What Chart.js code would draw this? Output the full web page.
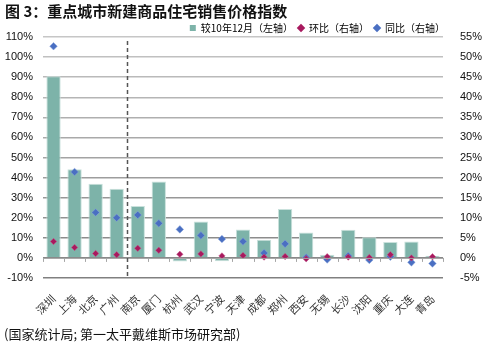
<!DOCTYPE html>
<html>
<head>
<meta charset="utf-8">
<script src="https://cdn.jsdelivr.net/npm/chart.js@4/dist/chart.umd.min.js"></script>
<style>
  html, body { margin: 0; padding: 0; background: #fff; }
  #wrap { position: relative; width: 493px; height: 350px; overflow: hidden; }
  #chart { position: absolute; left: 0; top: 0; }
  .titulo { position: absolute; left: 5px; top: 0px; font: bold 15px "Noto Sans CJK SC", sans-serif; color: #111; white-space: nowrap; }
  .fonte { position: absolute; left: 4px; top: 324px; font: 13px "Noto Sans CJK SC", sans-serif; color: #111; white-space: nowrap; }
</style>
</head>
<body>
<div id="wrap">
  <canvas id="chart" width="493" height="350"></canvas>
  <div class="titulo">图 3：重点城市新建商品住宅销售价格指数</div>
  <div class="fonte">(国家统计局; 第一太平戴维斯市场研究部)</div>
</div>
<script>
// Dados
const cidades = ['深圳', '上海', '北京', '广州', '南京', '厦门', '杭州', '武汉', '宁波', '天津',
                 '成都', '郑州', '西安', '无锡', '长沙', '沈阳', '重庆', '大连', '青岛'];
const vsDez10 = [90.4, 44.2, 36.9, 34.4, 25.9, 38.0, -1.8, 18.1, -1.7, 14.1,
                 9.1, 24.4, 12.6, 1.6, 14.0, 10.3, 7.9, 8.2, 1.1];
const huanbi = [4.1, 2.6, 1.1, 0.8, 2.4, 1.9, 0.9, 1.0, 0.5, 0.6,
                0.2, 0.35, -0.2, 0.3, 0.2, 0.1, 0.8, 0.0, 0.3];
const tongbi = [52.7, 21.4, 11.3, 10.0, 10.7, 8.6, 7.1, 5.6, 4.7, 4.1,
                1.2, 3.5, 0.1, -0.4, 0.5, -0.5, 0.3, -1.1, -1.4];
const nomesSeries = ['较10年12月（左轴）', '环比（右轴）', '同比（右轴）'];

// Legenda mais baixa e encostada no fim da área do gráfico
const legendaCompacta = {
    id: 'legendaCompacta',
    afterInit(chart) {
        const lg = chart.legend;
        const fitOrig = lg.fit.bind(lg);
        lg.fit = function () { fitOrig(); this.height = 19; };
    },
    afterLayout(chart) {
        const lg = chart.legend;
        lg.right = chart.chartArea.right + 7;
    }
};

// Linha tracejada entre 广州 e 南京 + eixo no zero com marcas
const extras = {
    id: 'extras',
    afterDatasetsDraw(chart) {
        const { ctx, chartArea, scales } = chart;
        const x = scales.x;
        const y0 = scales.y.getPixelForValue(0);
        ctx.save();
        ctx.strokeStyle = '#a6a6a6';
        ctx.lineWidth = 1;
        ctx.beginPath();
        ctx.moveTo(chartArea.left, y0 + 0.5);
        ctx.lineTo(chartArea.right, y0 + 0.5);
        for (let i = 0; i <= cidades.length; i++) {
            const px = Math.round(x.getPixelForValue(i - 0.5)) + 0.5;
            ctx.moveTo(px, y0);
            ctx.lineTo(px, y0 + 4);
        }
        ctx.stroke();

        const xd = Math.round((x.getPixelForValue(3) + x.getPixelForValue(4)) / 2) + 0.5;
        ctx.strokeStyle = '#555';
        ctx.lineWidth = 1.5;
        ctx.setLineDash([4, 3]);
        ctx.beginPath();
        ctx.moveTo(xd, chartArea.top + 4);
        ctx.lineTo(xd, chartArea.bottom);
        ctx.stroke();
        ctx.restore();
    }
};

const corGrade = (c) => {
    const t = c.index / 12;
    const v = Math.round(128 + t * 70);
    return `rgb(${v},${v},${v})`;
};

new Chart(document.getElementById('chart'), {
    data: {
        labels: cidades,
        datasets: [
            {
                type: 'bar',
                label: nomesSeries[0],
                data: vsDez10,
                yAxisID: 'y',
                backgroundColor: '#7db3a9',
                borderColor: '#c9e1dc',
                borderWidth: 1,
                barPercentage: 0.68,
                categoryPercentage: 1,
                order: 3
            },
            {
                type: 'line',
                label: nomesSeries[1],
                data: huanbi,
                yAxisID: 'y1',
                showLine: false,
                pointStyle: 'rectRot',
                pointRadius: 3.2,
                backgroundColor: '#a8195e',
                borderColor: '#c85a8c',
                borderWidth: 0.5,
                order: 1
            },
            {
                type: 'line',
                label: nomesSeries[2],
                data: tongbi,
                yAxisID: 'y1',
                showLine: false,
                pointStyle: 'rectRot',
                pointRadius: 3.8,
                backgroundColor: '#4a6fc2',
                borderColor: '#8aa6dc',
                borderWidth: 0.5,
                order: 2
            }
        ]
    },
    options: {
        responsive: false,
        animation: false,
        layout: { padding: { top: 18, right: 0, left: 0, bottom: 0 } },
        plugins: {
            legend: {
                align: 'end',
                labels: {
                    usePointStyle: true,
                    boxWidth: 6,
                    boxHeight: 6,
                    padding: 5,
                    color: '#333',
                    font: { family: '"Noto Sans CJK SC", sans-serif', size: 10 },
                    generateLabels(chart) {
                        return chart.data.datasets.map((ds, i) => ({
                            text: ds.label,
                            fillStyle: ds.backgroundColor,
                            strokeStyle: ds.backgroundColor,
                            lineWidth: 0,
                            pointStyle: i === 0 ? 'rect' : 'rectRot',
                            datasetIndex: i
                        }));
                    }
                }
            },
            tooltip: { enabled: false }
        },
        scales: {
            x: {
                grid: { display: false },
                border: { display: false },
                ticks: {
                    maxRotation: 45,
                    minRotation: 45,
                    autoSkip: false,
                    padding: 6,
                    color: '#333',
                    font: { family: '"Noto Sans CJK SC", sans-serif', size: 11 }
                },
                afterFit(scale) { scale.height = 72; }
            },
            y: {
                position: 'left',
                min: -10,
                max: 110,
                grid: { color: corGrade, lineWidth: 1.5, drawTicks: false },
                border: { display: false },
                ticks: {
                    stepSize: 10,
                    padding: 10,
                    color: '#111',
                    font: { family: '"Liberation Sans", Arial, sans-serif', size: 11 },
                    callback: (v) => v + '%'
                },
                afterFit(scale) { scale.width = 43; }
            },
            y1: {
                position: 'right',
                min: -5,
                max: 55,
                grid: { display: false },
                border: { display: false },
                ticks: {
                    stepSize: 5,
                    padding: 9,
                    color: '#111',
                    font: { family: '"Liberation Sans", Arial, sans-serif', size: 11 },
                    callback: (v) => v + '%'
                },
                afterFit(scale) { scale.width = 50; }
            }
        }
    },
    plugins: [legendaCompacta, extras]
});
</script>
</body>
</html>
